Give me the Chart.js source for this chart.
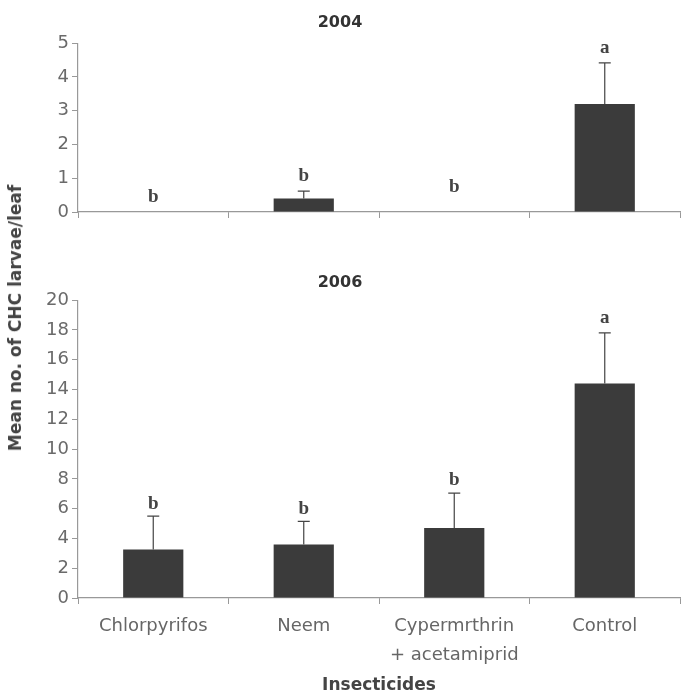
<!DOCTYPE html>
<html>
<head>
<meta charset="utf-8">
<script src="https://cdn.jsdelivr.net/npm/chart.js@4"></script>
<style>
  body { margin: 0; background: #fff; }
  #wrap { position: relative; width: 681px; height: 692px; overflow: hidden; }
  #c1 { position: absolute; left: 0; top: 0; }
  #c2 { position: absolute; left: 0; top: 262px; }
  #ytitle {
    position: absolute; left: 15px; top: 318px;
    transform: translate(-50%, -50%) rotate(-90deg);
    white-space: nowrap;
    font: bold 17px "DejaVu Sans", sans-serif;
    color: #444;
  }
</style>
</head>
<body>
<div id="wrap">
  <canvas id="c1" width="681" height="232"></canvas>
  <canvas id="c2" width="681" height="434"></canvas>
  <div id="ytitle">Mean no. of CHC larvae/leaf</div>
</div>
<script>
const categories = [['Chlorpyrifos'], ['Neem'], ['Cypermrthrin', '+ acetamiprid'], ['Control']];

const means2004 = [0, 0.4, 0, 3.2];
const err2004 = [0, 0.22, 0, 1.22];
const letters2004 = ['b', 'b', 'b', 'a'];
const letterPos2004 = [0.45, 1.05, 0.75, 4.85];
const ticks2004 = [0, 1, 2, 3, 4, 5];

const means2006 = [3.25, 3.6, 4.7, 14.4];
const err2006 = [2.25, 1.55, 2.35, 3.4];
const letters2006 = ['b', 'b', 'b', 'a'];
const letterPos2006 = [6.3, 6.0, 7.9, 18.8];
const ticks2006 = [0, 2, 4, 6, 8, 10, 12, 14, 16, 18, 20];

const barColor = '#3b3b3b';
const axisColor = '#999';
const tickFont = { family: 'DejaVu Sans', size: 18 };

// error bars (upper only) and significance letters
function annotate(means, errs, letters, letterPos) {
    return {
        id: 'annotate',
        afterDatasetsDraw(chart) {
            const ctx = chart.ctx;
            const y = chart.scales.y;
            const bars = chart.getDatasetMeta(0).data;
            ctx.save();
            ctx.strokeStyle = '#444';
            ctx.lineWidth = 1.2;
            bars.forEach((bar, i) => {
                if (errs[i] > 0) {
                    const y0 = y.getPixelForValue(means[i]);
                    const y1 = y.getPixelForValue(means[i] + errs[i]);
                    ctx.beginPath();
                    ctx.moveTo(bar.x, y0);
                    ctx.lineTo(bar.x, y1);
                    ctx.moveTo(bar.x - 6, y1);
                    ctx.lineTo(bar.x + 6, y1);
                    ctx.stroke();
                }
                ctx.fillStyle = '#444';
                ctx.font = 'bold 19px "Liberation Serif", serif';
                ctx.textAlign = 'center';
                ctx.textBaseline = 'middle';
                ctx.fillText(letters[i], bar.x, y.getPixelForValue(letterPos[i]));
            });
            ctx.restore();
        }
    };
}

function makeChart(id, title, means, errs, letters, letterPos, tickVals, showLabels, xHeight, titlePad) {
    const max = tickVals[tickVals.length - 1];
    const step = tickVals[1] - tickVals[0];
    return new Chart(document.getElementById(id), {
        type: 'bar',
        data: {
            labels: categories,
            datasets: [{
                data: means,
                backgroundColor: barColor,
                barPercentage: 0.4,
                categoryPercentage: 1
            }]
        },
        options: {
            responsive: false,
            animation: false,
            layout: { padding: { left: 0, right: 1, top: 0, bottom: 0 } },
            plugins: {
                legend: { display: false },
                tooltip: { enabled: false },
                title: {
                    display: true,
                    text: title,
                    color: '#333',
                    font: { family: 'DejaVu Sans', size: 16, weight: 'bold' },
                    padding: titlePad
                }
            },
            scales: {
                x: {
                    border: { color: axisColor, width: 1.2 },
                    grid: { drawOnChartArea: false, color: axisColor, tickLength: 6, offset: true },
                    ticks: {
                        display: showLabels,
                        color: '#666',
                        font: { family: 'DejaVu Sans', size: 18, lineHeight: 1.65 },
                        padding: 7,
                        maxRotation: 0
                    },
                    title: {
                        display: showLabels,
                        text: 'Insecticides',
                        color: '#444',
                        font: { family: 'DejaVu Sans', size: 17, weight: 'bold' },
                        padding: { top: 4, bottom: 0 }
                    },
                    afterFit: (s) => { s.height = xHeight; }
                },
                y: {
                    min: 0,
                    max: max,
                    border: { color: axisColor, width: 1.2 },
                    grid: { drawOnChartArea: false, color: axisColor, tickLength: 6 },
                    ticks: { stepSize: step, color: '#6a6a6a', font: tickFont, padding: 3 },
                    afterFit: (s) => { s.width = 78; }
                }
            }
        },
        plugins: [annotate(means, errs, letters, letterPos)]
    });
}

makeChart('c1', '2004', means2004, err2004, letters2004, letterPos2004, ticks2004, false, 20, { top: 13, bottom: 11 });
makeChart('c2', '2006', means2006, err2006, letters2006, letterPos2006, ticks2006, true, 98, { top: 11, bottom: 8 });
</script>
</body>
</html>
